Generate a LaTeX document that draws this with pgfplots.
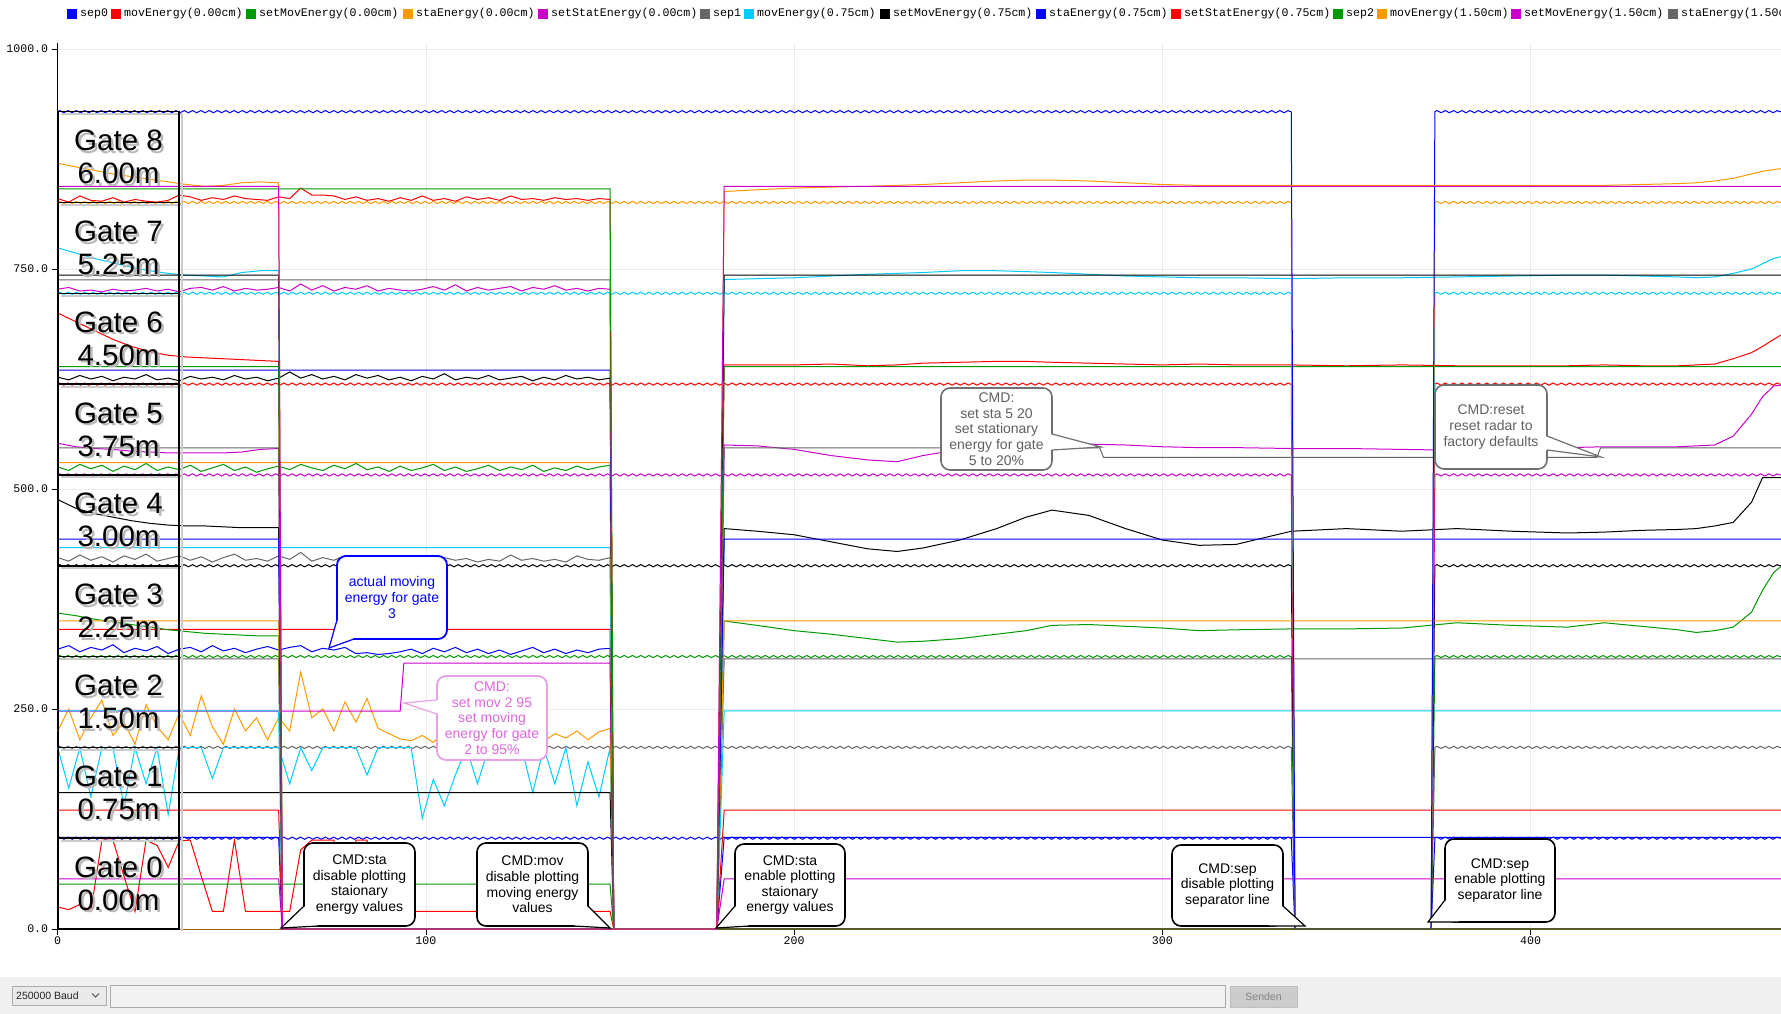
\documentclass[border=0pt]{standalone}
\usepackage{fontspec}
\setmainfont{Liberation Sans}
\newfontfamily\monofont{Liberation Mono}
\usepackage{pgfplots}
\pgfplotsset{compat=1.18}
\usepackage{pgfplotstable}
\usetikzlibrary{decorations.pathmorphing}

\definecolor{pBlue}{HTML}{0000FF}
\definecolor{pRed}{HTML}{FF0000}
\definecolor{pGreen}{HTML}{009900}
\definecolor{pOrange}{HTML}{FF9900}
\definecolor{pMag}{HTML}{CC00CC}
\definecolor{pGray}{HTML}{666666}
\definecolor{pCyan}{HTML}{00CCFF}
\definecolor{pBlack}{HTML}{000000}
\definecolor{gridc}{HTML}{EBEBEB}
\definecolor{barbg}{HTML}{F0F0F0}
\definecolor{ddf}{HTML}{E9E9E9}
\definecolor{ddb}{HTML}{ADADAD}
\definecolor{tff}{HTML}{F2F2F2}
\definecolor{tfb}{HTML}{ABABAB}
\definecolor{btf}{HTML}{CCCCCC}
\definecolor{btb}{HTML}{BFBFBF}
\definecolor{btt}{HTML}{838383}
\definecolor{pinkt}{HTML}{E066E0}
\definecolor{pinkb}{HTML}{E8A0E8}
\definecolor{grayt}{HTML}{606060}
\definecolor{grayb}{HTML}{707070}

\newcommand{\tickfont}{\monofont\fontsize{11.6}{13}\selectfont}
\newcommand{\gatefont}{\fontsize{29.5}{33}\selectfont}
\newcommand{\callfont}{\fontsize{14}{15.6}\selectfont}
\newcommand{\barfont}{\fontsize{10.5}{12}\selectfont}

\tikzset{sepwave/.style={line width=1pt, decorate, decoration={zigzag, segment length=8.3pt, amplitude=1.1pt}},
 bub/.style={rounded corners=9pt, fill=white, line width=1.6pt}}

\pgfplotstableread{
x m0 m1 m2 m3 m4 m5 m6 m7 m8
0 25 206 225 318 422 525 627 727 830
3 22 160 250 322 418 521 624 729 826
6 28 206 215 315 425 528 629 725 833
9 20 150 240 320 419 523 625 726 828
12 101 206 260 317 423 527 628 724 827
15 101 206 220 323 417 520 623 727 831
18 60 140 235 314 424 526 627 725 826
21 20 206 210 319 420 522 625 726 829
24 101 165 255 316 426 529 630 728 827
27 95 206 230 321 418 521 624 725 826
30 70 130 215 313 421 525 626 727 828
33 100 206 245 318 424 522 623 724 834
36 101 206 220 320 419 527 628 728 832
39 60 206 265 315 423 520 625 729 828
42 20 171 230 322 417 524 627 726 831
45 20 206 210 316 422 528 624 730 829
48 101 206 250 319 426 521 629 725 833
51 20 206 225 314 419 525 625 728 830
54 20 206 240 318 421 519 627 726 829
57 20 206 215 321 418 523 623 727 828
60 20 206 240 317 424 526 626 729 832
63 20 165 225 320 420 522 633 725 830
66 90 206 292 322 428 528 626 733 842
69 101 180 240 315 418 524 630 726 834
72 101 206 250 319 422 521 625 731 834
75 101 206 225 317 419 527 628 725 833
78 30 206 258 320 424 523 624 729 829
81 101 206 235 313 420 529 630 727 832
84 101 175 262 314 417 522 626 731 828
87 30 206 228 312 423 525 629 725 830
90 20 206 222 313 418 520 624 728 827
93 20 206 216 315 421 526 627 726 831
96 20 206 214 318 419 521 623 725 828
99 20 126 220 313 420 524 628 727 833
102 20 170 212 319 418 528 625 730 828
105 20 140 225 315 422 521 631 726 830
108 20 175 218 320 419 525 624 732 827
111 20 206 222 314 421 520 627 725 832
114 20 165 214 318 417 523 625 729 829
117 20 206 224 313 420 527 629 726 831
120 20 206 219 317 418 521 624 728 828
123 20 206 226 312 425 525 626 730 833
126 20 206 216 316 419 522 628 725 829
129 20 155 221 320 421 527 623 729 830
132 20 206 213 314 418 520 627 727 828
135 20 165 222 318 420 524 624 731 831
138 20 206 217 313 417 521 629 726 829
141 20 140 225 317 424 526 625 728 830
144 20 190 215 314 420 522 627 725 828
147 20 150 224 318 419 525 624 728 830
150 20 206 228 319 422 527 626 727 829
151 0 0 0 0 0 0 0 0 0
468 0 0 0 0 0 0 0 0 0
}\movtab

\pgfplotstableread{
x s0 s1 s2 s3 s4 s5 s6 s7 s8
0 0 104 307 359 488 552 700 774 870
5 0 104 307 356 478 548 690 768 866
10 0 104 307 352 472 546 680 762 862
15 0 104 307 349 468 545 670 757 858
20 0 104 307 346 464 543 662 752 855
25 0 104 307 343 461 542 656 748 852
30 0 104 307 340 459 541 652 745 849
35 0 104 307 338 458 541 650 743 846
40 0 104 307 336 458 541 649 742 844
45 0 104 307 335 457 541 648 741 845
50 0 104 307 334 456 542 647 746 848
55 0 104 307 333 456 545 646 748 849
60 0 104 307 333 456 546 645 748 848
61 0 0 0 0 0 0 0 0 0
179 0 0 0 0 0 0 0 0 0
181 0 104 307 350 455 550 641 738 838
190 0 104 307 345 452 549 641 739 840
200 0 104 307 339 448 545 641 740 842
210 0 104 307 335 440 538 642 742 843
220 0 104 307 330 432 533 640 744 844
228 0 104 307 326 429 531 641 745 845
235 0 104 307 327 433 538 643 746 846
245 0 104 307 330 442 545 644 748 848
255 0 104 307 335 455 548 645 748 850
263 0 104 307 339 468 549 645 747 851
270 0 104 307 345 476 550 644 746 851
280 0 104 307 346 470 551 643 744 850
290 0 104 307 344 455 550 642 742 848
300 0 104 307 342 442 548 641 741 846
310 0 104 307 339 436 547 642 740 845
320 0 104 307 340 437 547 641 740 845
335 0 104 307 341 452 546 641 739 845
350 0 104 307 341 455 546 640 740 845
365 0 104 307 342 452 545 641 740 845
380 0 104 307 348 455 544 640 741 845
395 0 104 307 345 452 546 640 742 845
410 0 104 307 343 450 547 640 743 845
420 0 104 307 348 451 548 641 743 845
430 0 104 307 344 453 548 640 742 846
440 0 104 307 340 454 548 640 741 847
445 0 104 307 337 455 549 641 740 848
450 0 104 307 339 458 550 642 741 850
455 0 104 307 343 462 560 648 745 853
460 0 104 307 360 485 585 655 750 858
463 0 104 307 385 513 605 662 756 861
466 0 104 307 405 513 617 670 762 863
468 0 104 307 412 513 618 675 764 864
}\statab

\newcommand{\sepline}[2]{%
 \addplot[#1, sepwave] coordinates {(0,#2) (335,#2)};
 \addplot[#1] coordinates {(335,#2) (336,0) (373,0) (374,#2)};
 \addplot[#1, sepwave] coordinates {(374,#2) (468,#2)};}

\newcommand{\gatebox}[4]{%
 \draw[gray!40, line width=2pt] (61,#1+2.5) -- (181.5,#1+2.5) -- (181.5,#2+2);
 \draw[black, line width=1.6pt] (58.3,#1) rectangle (179,#2);
 \node[text=gray!55, font=\gatefont, align=center, inner sep=0pt] at (121,{(#1+#2)/2+2.5}) {Gate #3\\#4m};
 \node[text=black, font=\gatefont, align=center, inner sep=0pt] at (118.5,{(#1+#2)/2}) {Gate #3\\#4m};}

\begin{document}
\begin{tikzpicture}
\useasboundingbox (0pt,0pt) rectangle (1781pt,-1014pt);
\fill[white] (0pt,0pt) rectangle (1781pt,-1014pt);
\begin{axis}[
 at={(57.7pt,-929pt)}, anchor=south west,
 scale only axis, width=1723.3pt, height=886pt,
 xmin=0, xmax=468, ymin=0, ymax=1006.8,
 axis x line*=bottom, axis y line*=left,
 axis line style={-, black, line width=1pt},
 x axis line style={-}, y axis line style={-},
 xtick={0,100,200,300,400}, xticklabels={0,100,200,300,400},
 ytick={0,250,500,750,1000}, yticklabels={0.0,250.0,500.0,750.0,1000.0},
 tick style={black, line width=0.8pt}, major tick length=6pt, tick align=outside,
 ticklabel style={font=\tickfont},
 xticklabel style={yshift=2pt},
 grid=major, major grid style={color=gridc, line width=0.8pt},
 clip=false,
 every axis plot/.append style={line width=1pt},
]
% gate 0
\sepline{pBlue}{103.2}
\addplot[pRed] table[x=x,y=m0]{\movtab};
\addplot[pGreen] coordinates {(0,51)(150,51)(151,0)(468,0)};
\addplot[pOrange] table[x=x,y=s0]{\statab};
\addplot[pMag] coordinates {(0,57)(60,57)(61,0)(179,0)(181,57)(468,57)};
% gate 1
\sepline{pGray}{206.4}
\addplot[pCyan] table[x=x,y=m1]{\movtab};
\addplot[pBlack] coordinates {(0,155)(150,155)(151,0)(468,0)};
\addplot[pBlue] table[x=x,y=s1]{\statab};
\addplot[pRed] coordinates {(0,135)(60,135)(61,0)(179,0)(181,135)(468,135)};
% gate 2
\sepline{pGreen}{309.6}
\addplot[pOrange] table[x=x,y=m2]{\movtab};
\addplot[pMag] coordinates {(0,247.7)(93,247.7)(94,302)(150,302)(151,0)(468,0)};
\addplot[pGray] table[x=x,y=s2]{\statab};
\addplot[pCyan] coordinates {(0,248)(60,248)(61,0)(179,0)(181,248)(468,248)};
% gate 3
\sepline{pBlack}{412.8}
\addplot[pBlue] table[x=x,y=m3]{\movtab};
\addplot[pRed] coordinates {(0,340.6)(150,340.6)(151,0)(468,0)};
\addplot[pGreen] table[x=x,y=s3]{\statab};
\addplot[pOrange] coordinates {(0,350)(60,350)(61,0)(179,0)(181,350)(468,350)};
% gate 4
\sepline{pMag}{516}
\addplot[pGray] table[x=x,y=m4]{\movtab};
\addplot[pCyan] coordinates {(0,433.5)(150,433.5)(151,0)(468,0)};
\addplot[pBlack] table[x=x,y=s4]{\statab};
\addplot[pBlue] coordinates {(0,443)(60,443)(61,0)(179,0)(181,443)(468,443)};
% gate 5
\sepline{pRed}{619.2}
\addplot[pGreen] table[x=x,y=m5]{\movtab};
\addplot[pOrange] coordinates {(0,530)(150,530)(151,0)(468,0)};
\addplot[pMag] table[x=x,y=s5]{\statab};
\addplot[pGray] coordinates {(0,546.6)(60,546.6)(61,0)(179,0)(181,546.6)(283,546.6)(284,536)(418,536)(419,546.6)(468,546.6)};
% gate 6
\sepline{pCyan}{722.4}
\addplot[pBlack] table[x=x,y=m6]{\movtab};
\addplot[pBlue] coordinates {(0,635)(150,635)(151,0)(468,0)};
\addplot[pRed] table[x=x,y=s6]{\statab};
\addplot[pGreen] coordinates {(0,639)(60,639)(61,0)(179,0)(181,639)(468,639)};
% gate 7
\sepline{pOrange}{825.6}
\addplot[pMag] table[x=x,y=m7]{\movtab};
\addplot[pGray] coordinates {(0,737.5)(150,737.5)(151,0)(468,0)};
\addplot[pCyan] table[x=x,y=s7]{\statab};
\addplot[pBlack] coordinates {(0,743)(60,743)(61,0)(179,0)(181,743)(468,743)};
% gate 8
\sepline{pBlue}{928.8}
\addplot[pRed] table[x=x,y=m8]{\movtab};
\addplot[pGreen] coordinates {(0,841)(150,841)(151,0)(468,0)};
\addplot[pOrange] table[x=x,y=s8]{\statab};
\addplot[pMag] coordinates {(0,844)(60,844)(61,0)(179,0)(181,844)(468,844)};
\end{axis}

\begin{scope}[x=1pt,y=-1pt]
% gate label boxes
\gatebox{838.2}{929}{0}{0.00}
\gatebox{747.4}{838.2}{1}{0.75}
\gatebox{656.6}{747.4}{2}{1.50}
\gatebox{565.7}{656.6}{3}{2.25}
\gatebox{474.9}{565.7}{4}{3.00}
\gatebox{384.1}{474.9}{5}{3.75}
\gatebox{293.3}{384.1}{6}{4.50}
\gatebox{202.5}{293.3}{7}{5.25}
\gatebox{111.7}{202.5}{8}{6.00}

% callouts
% CMD:sta disable
\draw[bub, draw=black] (304,843) rectangle (415,926);
\fill[white] (304,906) -- (281,928) -- (318,926) -- cycle;
\draw[black, line width=1.2pt] (304,906) -- (281,928) -- (318,926);
\node[align=center, font=\callfont, text=black] at (359.5,884.5) {CMD:sta\\disable plotting\\staionary\\energy values};
% CMD:mov disable
\draw[bub, draw=black] (477,843) rectangle (588,926);
\fill[white] (588,906) -- (610,928) -- (574,926) -- cycle;
\draw[black, line width=1.2pt] (588,906) -- (610,928) -- (574,926);
\node[align=center, font=\callfont, text=black] at (532.5,884.5) {CMD:mov\\disable plotting\\moving energy\\values};
% CMD:sta enable
\draw[bub, draw=black] (735,844) rectangle (845,926);
\fill[white] (735,906) -- (716,928) -- (749,926) -- cycle;
\draw[black, line width=1.2pt] (735,906) -- (716,928) -- (749,926);
\node[align=center, font=\callfont, text=black] at (790,885) {CMD:sta\\enable plotting\\staionary\\energy values};
% CMD:sep disable
\draw[bub, draw=black] (1172,845) rectangle (1283,926);
\fill[white] (1283,906) -- (1305,926) -- (1269,926) -- cycle;
\draw[black, line width=1.2pt] (1283,906) -- (1305,926) -- (1269,926);
\node[align=center, font=\callfont, text=black] at (1227.5,885.5) {CMD:sep\\disable plotting\\separator line};
% CMD:sep enable
\draw[bub, draw=black] (1445,839) rectangle (1555,922);
\fill[white] (1445,900) -- (1428,922) -- (1459,922) -- cycle;
\draw[black, line width=1.2pt] (1445,900) -- (1428,922) -- (1459,922);
\node[align=center, font=\callfont, text=black] at (1500,880.5) {CMD:sep\\enable plotting\\separator line};
% actual moving energy
\draw[bub, draw=pBlue, line width=1.8pt] (337,556) rectangle (447,639);
\fill[white] (337,620) -- (329,648) -- (354,639) -- cycle;
\draw[pBlue, line width=1.2pt] (337,620) -- (329,648) -- (354,639);
\node[align=center, font=\callfont, text=pBlue] at (392,597.5) {actual moving\\energy for gate\\3};
% set mov 2 95
\draw[bub, draw=pinkb, line width=1.8pt] (437,676) rectangle (547,760);
\fill[white] (438.5,700) -- (404,703) -- (438.5,714) -- cycle;
\draw[pinkb, line width=1.2pt] (437,700) -- (404,703) -- (437,714);
\node[align=center, font=\callfont, text=pinkt] at (492,718) {CMD:\\set mov 2 95\\set moving\\energy for gate\\2 to 95\%};
% set sta 5 20
\draw[bub, draw=grayb] (941,388) rectangle (1052,470);
\fill[white] (1050.5,434) -- (1101,447) -- (1050.5,450) -- cycle;
\draw[grayb, line width=1.2pt] (1052,434) -- (1101,447) -- (1052,450);
\node[align=center, font=\callfont, text=grayt] at (996.5,429) {CMD:\\set sta 5 20\\set stationary\\energy for gate\\5 to 20\%};
% reset
\draw[bub, draw=grayb] (1435,385) rectangle (1547,469);
\fill[white] (1545.5,436) -- (1601,457) -- (1545.5,450) -- cycle;
\draw[grayb, line width=1.2pt] (1547,436) -- (1601,457) -- (1547,450);
\node[align=center, font=\callfont, text=grayt] at (1491,427) {CMD:reset\\reset radar to\\factory defaults};

% legend
\foreach \sx/\col/\txt in {67/pBlue/sep0, 111/pRed/movEnergy(0.00cm), 246/pGreen/setMovEnergy(0.00cm), 403/pOrange/staEnergy(0.00cm), 538/pMag/setStatEnergy(0.00cm), 700/pGray/sep1, 744/pCyan/movEnergy(0.75cm), 880/pBlack/setMovEnergy(0.75cm), 1036/pBlue/staEnergy(0.75cm), 1171/pRed/setStatEnergy(0.75cm), 1333/pGreen/sep2, 1377/pOrange/movEnergy(1.50cm), 1511/pMag/setMovEnergy(1.50cm), 1668/pGray/staEnergy(1.50cm)} {
 \fill[\col] (\sx,9) rectangle ++(10,10);
 \node[anchor=west, inner sep=0pt, font=\tickfont] at (\sx+13,14) {\txt};
}

% bottom bar
\fill[barbg] (0,977) rectangle (1781,1014);
\draw[draw=ddb, fill=ddf, line width=1pt] (12,986) rectangle (106,1005);
\node[anchor=west, inner sep=0pt, font=\barfont, text=black!85] at (16,995.5) {250000 Baud};
\draw[black!70, line width=0.8pt] (92,993.5) -- (95.5,997) -- (99,993.5);
\draw[draw=tfb, fill=tff, line width=1pt] (110,985) rectangle (1225,1007);
\draw[draw=btb, fill=btf, line width=1pt] (1230,986) rectangle (1297,1007);
\node[font=\barfont, text=btt] at (1263.5,996.5) {Senden};
\end{scope}
\end{tikzpicture}
\end{document}
